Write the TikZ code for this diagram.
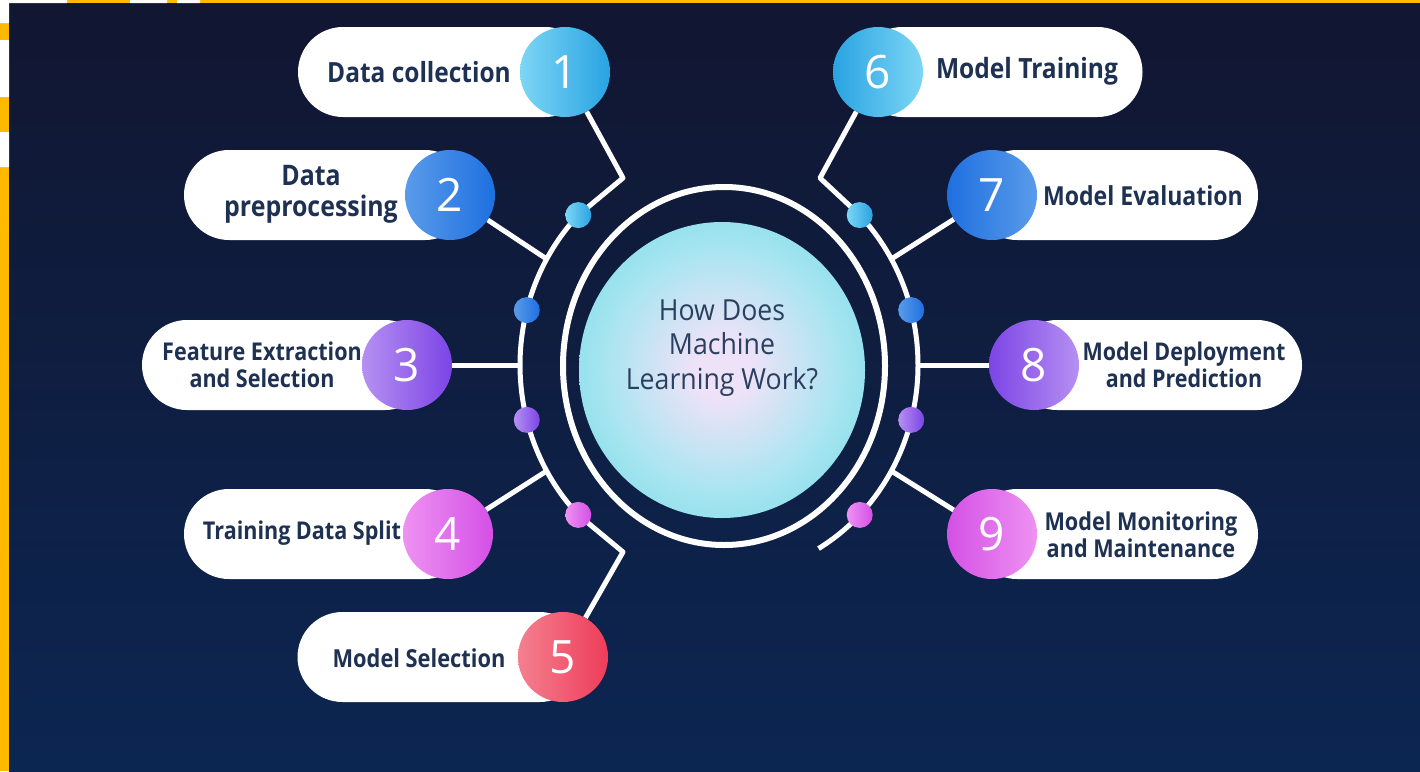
\documentclass[tikz,border=0pt]{standalone}
\usepackage{fontspec}
\setmainfont{Open Sans}
\newfontfamily\labfont[FakeStretch=0.88]{Open Sans}
\newfontfamily\hubfont[FakeStretch=0.92]{Open Sans}
\usetikzlibrary{shapes.geometric,calc}
\definecolor{framey}{HTML}{FFBA00}
\definecolor{bgtop}{HTML}{111631}
\definecolor{bgbot}{HTML}{0C2652}
\definecolor{ink}{HTML}{1E3152}
\definecolor{hubink}{HTML}{29405E}
\definecolor{cyA}{HTML}{7DD6F5}\definecolor{cyB}{HTML}{29A3E2}
\definecolor{blA}{HTML}{5A9CEA}\definecolor{blB}{HTML}{1E6FE0}
\definecolor{puA}{HTML}{B690F2}\definecolor{puB}{HTML}{7C44E6}
\definecolor{piA}{HTML}{EE92F2}\definecolor{piB}{HTML}{D450E6}
\definecolor{reA}{HTML}{F4808F}\definecolor{reB}{HTML}{EE3C5A}
\definecolor{hubA}{HTML}{EEE2F8}\definecolor{hubB}{HTML}{A6E5F0}\definecolor{hubC}{HTML}{6ED7E6}\definecolor{hubD}{HTML}{52CCE0}
\pgfdeclareradialshading{hubglow}{\pgfpoint{0bp}{0bp}}{color(0bp)=(hubA); color(5bp)=(hubA); color(21bp)=(hubB); color(36bp)=(hubC); color(50bp)=(hubD)}
\pgfdeclarelayer{bg}\pgfdeclarelayer{lines}
\pgfsetlayers{bg,lines,main}
\tikzset{
  wline/.style={white, line width=5pt, line join=round},
  pill/.style={fill=white, rounded corners=45pt, minimum height=90pt, inner sep=0pt},
  numc/.style={circle, minimum size=90pt, inner sep=0pt, text=white, font=\fontsize{46}{46}\selectfont},
  dotc/.style={circle, minimum size=26pt, inner sep=0pt},
  lab/.style={text=ink, align=center, inner sep=0pt, font=\labfont\bfseries\fontsize{#1}{27}\selectfont},
  lab/.default=27,
}
\begin{document}
\begin{tikzpicture}[x=1pt,y=-1pt]
\useasboundingbox (0,0) rectangle (1420,771);
\begin{pgfonlayer}{bg}
\fill[fill=framey] (0,0) rectangle (1420,771);
\shade[top color=bgtop, bottom color=bgbot] (9,3) rectangle (1420,771);
\fill[white] (0,0) rectangle (9,23) (0,40) rectangle (9,97) (0,132) rectangle (9,167);
\fill[white] (0,0) rectangle (67,3) (130,0) rectangle (167,3) (177,0) rectangle (200,3);
\end{pgfonlayer}

% hub
\node[ellipse, shading=hubglow, minimum width=286pt, minimum height=296pt, inner sep=0pt] (hub) at (722,370) {};
\node[ellipse, draw=white, line width=6pt, minimum width=322pt, minimum height=358pt, inner sep=0pt] (ring) at (724,366) {};
\node[text=hubink, align=center, font=\hubfont\fontsize{29}{34.5}\selectfont] (hubtxt) at (722,348) {How Does\\Machine\\Learning Work?};

% arc points
\coordinate (j2) at ({719+199*cos(210)},{365+212*sin(210)});
\coordinate (j3) at ({719+199*cos(180)},{365+212*sin(180)});
\coordinate (j4) at ({719+199*cos(150)},{365+212*sin(150)});
\coordinate (k7) at ({719+199*cos(-30)},{365+212*sin(-30)});
\coordinate (k8) at ({719+199*cos(0)},{365+212*sin(0)});
\coordinate (k9) at ({719+199*cos(30)},{365+212*sin(30)});
\coordinate (rend) at ({719+199*cos(60)},{365+212*sin(60)});
\coordinate (q1) at (623,178);
\coordinate (q5) at (623,552);
\coordinate (q6) at (820,178);

% pills
\node[pill, minimum width=292pt] (p1) at (444,72) {};
\node[pill, minimum width=286pt] (p2) at (327,195) {};
\node[pill, minimum width=288pt] (p3) at (286,365) {};
\node[pill, minimum width=286pt] (p4) at (327,534) {};
\node[pill, minimum width=287pt] (p5) at (441,657) {};
\node[pill, minimum width=285pt] (p6) at (1000,72) {};
\node[pill, minimum width=286pt] (p7) at (1115,195) {};
\node[pill, minimum width=290pt] (p8) at (1157,365) {};
\node[pill, minimum width=286pt] (p9) at (1115,534) {};

% number circles
\node[numc, left color=cyA, right color=cyB] (c1) at (565,72) {1};
\node[numc, left color=blA, right color=blB] (c2) at (450,195) {2};
\node[numc, left color=puA, right color=puB] (c3) at (407,365) {3};
\node[numc, left color=piA, right color=piB] (c4) at (448,534) {4};
\node[numc, left color=reA, right color=reB] (c5) at (563,657) {5};
\node[numc, left color=cyB, right color=cyA] (c6) at (878,72) {6};
\node[numc, left color=blB, right color=blA] (c7) at (992,195) {7};
\node[numc, left color=puB, right color=puA] (c8) at (1034,365) {8};
\node[numc, left color=piB, right color=piA] (c9) at (992,534) {9};

% labels
\node[lab=27.8] (t1) at (419,72) {Data collection};
\node[lab=28.3, font=\labfont\bfseries\fontsize{28.3}{31}\selectfont] (t2) at (311,194) {Data\\preprocessing};
\node[lab=24.5] (t3) at (262,365) {Feature Extraction\\and Selection};
\node[lab=24.5] (t4) at (302,533) {Training Data Split};
\node[lab=24.8] (t5) at (419,658) {Model Selection};
\node[lab=27.9] (t6) at (1027,71) {Model Training};
\node[lab=26.2] (t7) at (1143,196) {Model Evaluation};
\node[lab=24.4] (t8) at (1184,365) {Model Deployment\\and Prediction};
\node[lab=24.6] (t9) at (1141,535) {Model Monitoring\\and Maintenance};

% dots on the arcs
\node[dotc, left color=cyA, right color=cyB] (d1) at ({719+199*cos(225)},{365+212*sin(225)}) {};
\node[dotc, left color=blA, right color=blB] (d2) at ({719+199*cos(195)},{365+212*sin(195)}) {};
\node[dotc, left color=puA, right color=puB] (d3) at ({719+199*cos(165)},{365+212*sin(165)}) {};
\node[dotc, left color=piA, right color=piB] (d4) at ({719+199*cos(135)},{365+212*sin(135)}) {};
\node[dotc, left color=cyA, right color=cyB] (e1) at ({719+199*cos(-45)},{365+212*sin(-45)}) {};
\node[dotc, left color=blA, right color=blB] (e2) at ({719+199*cos(-15)},{365+212*sin(-15)}) {};
\node[dotc, left color=puA, right color=puB] (e3) at ({719+199*cos(15)},{365+212*sin(15)}) {};
\node[dotc, left color=piA, right color=piB] (e4) at ({719+199*cos(45)},{365+212*sin(45)}) {};

\begin{pgfonlayer}{lines}
\draw[wline] plot[domain=135:225, samples=80] ({719+199*cos(\x)},{365+212*sin(\x)});
\draw[wline] plot[domain=-45:60, samples=80] ({719+199*cos(\x)},{365+212*sin(\x)});
\draw[wline] (d1.center) -- (q1) -- (c1);
\draw[wline] (j2) -- (c2);
\draw[wline] (j3) -- (c3);
\draw[wline] (j4) -- (c4);
\draw[wline] (d4.center) -- (q5) -- (c5);
\draw[wline] (e1.center) -- (q6) -- (c6);
\draw[wline] (k7) -- (c7);
\draw[wline] (k8) -- (c8);
\draw[wline] (k9) -- (c9);
\end{pgfonlayer}
\end{tikzpicture}
\end{document}
